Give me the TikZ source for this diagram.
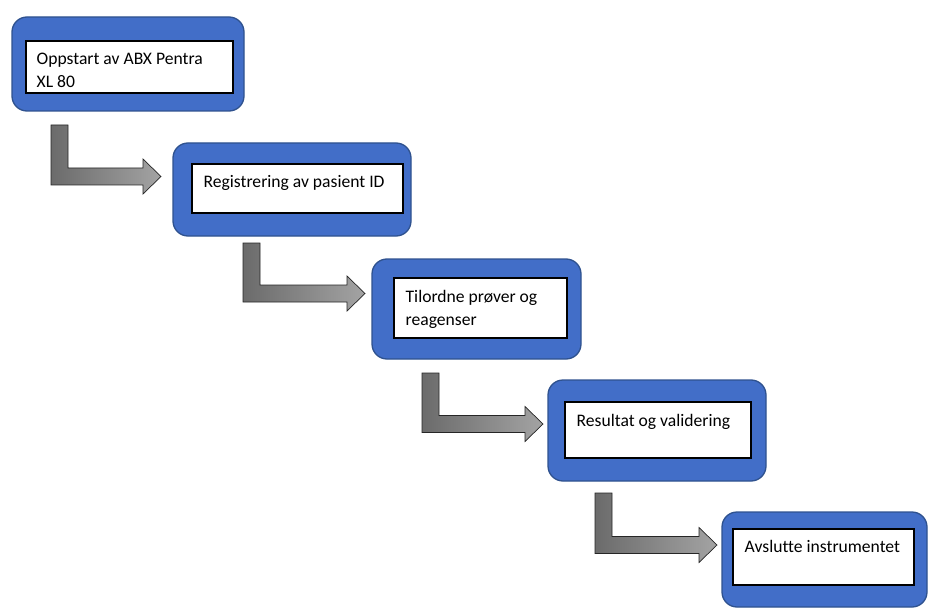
\documentclass[tikz,border=0pt]{standalone}
\usepackage{fontspec}
\setmainfont{Carlito}[Ligatures={NoCommon}]
\usetikzlibrary{calc}
\definecolor{stageblue}{RGB}{66,110,200}
\definecolor{stageedge}{RGB}{47,82,143}
\newcommand{\stagefont}{\fontsize{17.6}{23}\selectfont}
% bent block arrow: #1 = top left of the shaft, #2 = tip
\newcommand{\bentarrow}[2]{%
  \path[flow] (#1) -- ++(17,0) -- ($(#1 |- #2)+(17,-8.5)$) -- ($(#2)+(-18,-8.5)$)
    -- ($(#2)+(-18,-17.5)$) -- (#2) -- ($(#2)+(-18,17.5)$) -- ($(#2)+(-18,8.5)$)
    -- ($(#1 |- #2)+(0,8.5)$) -- cycle;}
\begin{document}
\begin{tikzpicture}[x=1pt,y=-1pt]
        \tikzstyle{stage}=[rectangle,rounded corners=15pt,draw=stageedge,line width=1.3pt,fill=stageblue,inner sep=0pt]
        \tikzstyle{panel}=[rectangle,draw=black,line width=1.1pt,fill=white,inner sep=0pt]
        \tikzstyle{caption}=[anchor=north west,inner sep=0pt,align=left,font=\stagefont]
        \tikzstyle{flow}=[draw=black!85,line width=0.7pt,left color=black!58,right color=black!36]
       \useasboundingbox (0,0) rectangle (932,615);
       \begin{scope}
         % outer blue boxes
         \node [stage,minimum width=232pt,minimum height=94pt] (b1) at (128,64) {};
         \node [stage,minimum width=238pt,minimum height=93pt] (b2) at (292,189.5) {};
         \node [stage,minimum width=209pt,minimum height=100pt] (b3) at (476.5,309) {};
         \node [stage,minimum width=218pt,minimum height=101pt] (b4) at (657,430.5) {};
         \node [stage,minimum width=205pt,minimum height=95pt] (b5) at (824.5,559.5) {};
         % white panels
         \node [panel,minimum width=207pt,minimum height=52pt] (t1) at (129.5,67) {};
         \node [panel,minimum width=211pt,minimum height=49pt] (t2) at (297.5,188.5) {};
         \node [panel,minimum width=173pt,minimum height=60pt] (t3) at (480.5,308) {};
         \node [panel,minimum width=186pt,minimum height=56pt] (t4) at (658,430) {};
         \node [panel,minimum width=181pt,minimum height=56pt] (t5) at (823.5,557) {};
         % texts
         \node [caption] (c1) at ($(t1.north west)+(11,8)$) {\strut Oppstart av ABX Pentra\\XL 80};
         \node [caption] (c2) at ($(t2.north west)+(12,8)$) {\strut Registrering av pasient ID};
         \node [caption] (c3) at ($(t3.north west)+(12,9)$) {\strut Tilordne prøver og\\reagenser};
         \node [caption] (c4) at ($(t4.north west)+(12,9)$) {\strut Resultat og validering};
         \node [caption] (c5) at ($(t5.north west)+(12,8)$) {\strut Avslutte instrumentet};
         % arrows
         \coordinate (a1s) at (51,125);  \coordinate (a1t) at (161,176.5);
         \coordinate (a2s) at (243,243); \coordinate (a2t) at (365,293.5);
         \coordinate (a3s) at (422,373); \coordinate (a3t) at (543,424);
         \coordinate (a4s) at (595,493); \coordinate (a4t) at (717,545);
         \bentarrow{a1s}{a1t}
         \bentarrow{a2s}{a2t}
         \bentarrow{a3s}{a3t}
         \bentarrow{a4s}{a4t}
        \end{scope}
      \end{tikzpicture}
\end{document}
